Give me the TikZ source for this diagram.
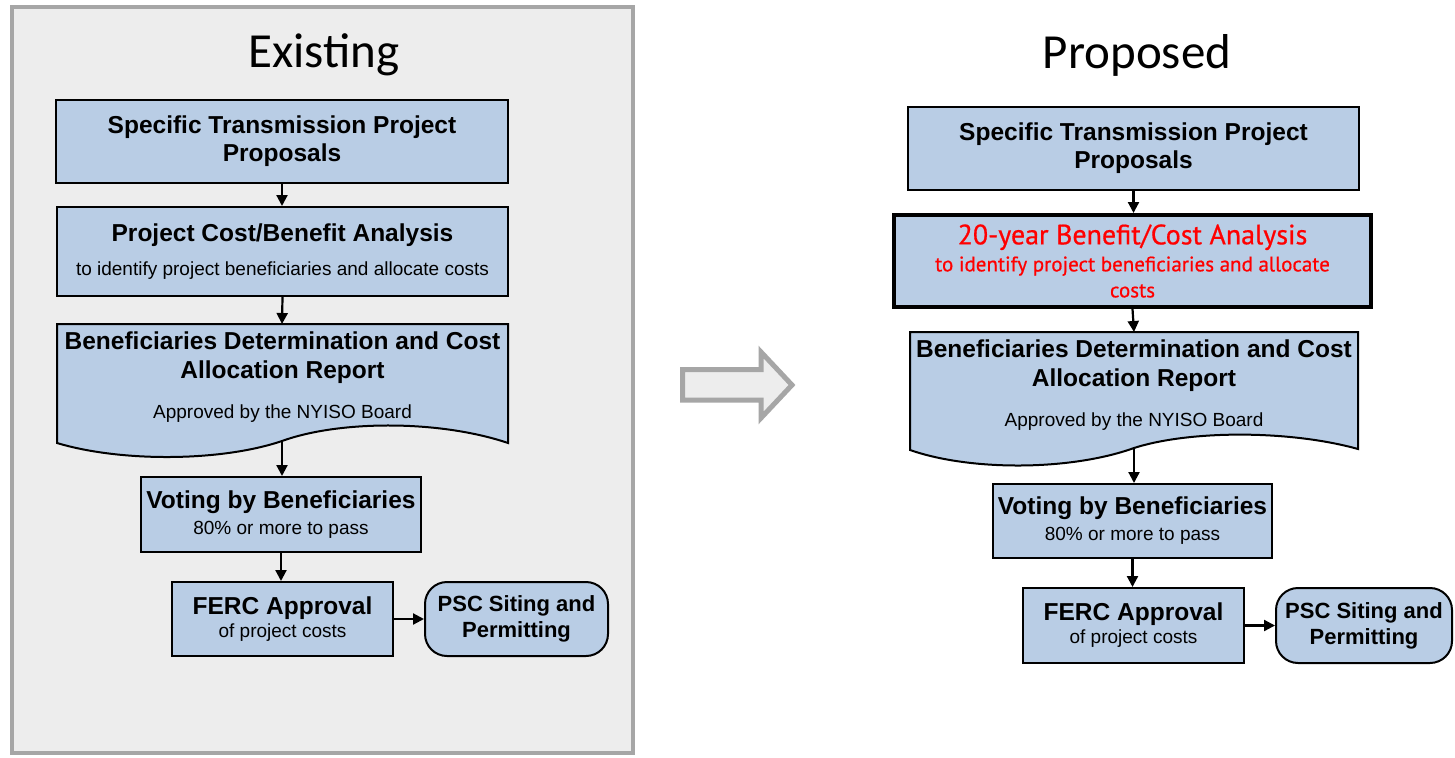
\documentclass[tikz,border=0pt]{standalone}
\usepackage{fontspec}
\setmainfont{Liberation Sans}
\newfontfamily\headfont{Carlito}
\newfontfamily\redfont[FakeBold=0.6]{PT Sans}
\usetikzlibrary{arrows.meta}
\definecolor{boxblue}{HTML}{B9CDE5}
\definecolor{panelfill}{HTML}{EDEDED}
\definecolor{panelline}{HTML}{A6A6A6}
\definecolor{redtext}{HTML}{FF0000}
\newcommand{\subtxt}{\fontsize{19}{23}\selectfont\mdseries}
\newcommand{\smalltxt}{\fontsize{19}{22}\selectfont\mdseries}
\newcommand{\redsub}{\fontsize{21}{21}\selectfont}
\begin{document}
\begin{tikzpicture}[x=1pt,y=-1pt,
  box/.style={draw=black,line width=2pt,fill=boxblue,inner sep=0pt,align=center,font=\fontsize{24.5}{28}\selectfont\bfseries},
  doctext/.style={inner sep=0pt,align=center,anchor=north,font=\fontsize{24.5}{28}\selectfont\bfseries},
  arr/.style={line width=2.2pt,-{Triangle[length=11pt,width=11pt]}},
  heading/.style={font=\headfont\fontsize{49}{49}\selectfont,anchor=base,inner sep=0pt},
  docshape/.style={draw=black,line width=2pt,fill=boxblue,line join=miter},
  bigarrow/.style={draw=panelline,line width=5pt,fill=panelfill,line join=miter},
  rounded/.style={rounded corners=22pt,font=\fontsize{22}{26}\selectfont\bfseries},
]
\useasboundingbox (0,0) rectangle (1455,757);
\fill[white] (0,0) rectangle (1455,757);
% ---------- Existing panel ----------
\draw[draw=panelline,line width=4pt,fill=panelfill] (12,7) rectangle (633,753);
\node[heading] (ltitle) at (324,68) {Existing};
\node[box,minimum width=452pt,minimum height=83pt] (lb1) at (282,141.5) {Specific Transmission Project\\Proposals};
\node[box,minimum width=451pt,minimum height=89pt] (lb2) at (282.5,251.5) {Project Cost/Benefit Analysis\\[6pt]\subtxt to identify project beneficiaries and allocate costs};
\draw[docshape] (57,324) -- (508,324) -- (508,443) .. controls (440,420) and (340,420) .. (282,441) .. controls (220,462) and (120,462) .. (57,443) -- cycle;
\node[doctext] (lb3) at (282.5,331.5) {Beneficiaries Determination and Cost\\[1pt]Allocation Report\\[12pt]\subtxt Approved by the NYISO Board};
\coordinate (lb3top) at (282,324);
\coordinate (lb3w) at (282,441);
\node[box,minimum width=280pt,minimum height=75pt] (lb4) at (281,514.5) {Voting by Beneficiaries\\[-2pt]\smalltxt 80\% or more to pass};
\node[box,minimum width=221pt,minimum height=74pt] (lb5) at (282.5,619) {FERC Approval\\[-5pt]\smalltxt of project costs};
\node[box,rounded,minimum width=183pt,minimum height=74pt] (lb6) at (516.5,619) {PSC Siting and\\Permitting};
\draw[arr] (lb1.south) -- (lb1.south |- lb2.north);
\draw[arr] (lb2.south) -- (lb3top);
\draw[arr] (lb3w) -- (lb3w |- lb4.north);
\draw[arr] (lb4.south) -- (lb4.south |- lb5.north);
\draw[arr] (lb5.east) -- (lb5.east -| lb6.west);
% ---------- big arrow ----------
\draw[bigarrow] (682.5,369.5) -- (761,369.5) -- (761,352) -- (792,385) -- (761,418) -- (761,400) -- (682.5,400) -- cycle;
% ---------- Proposed ----------
\node[heading] (rtitle) at (1137,69) {Proposed};
\node[box,minimum width=451pt,minimum height=83pt] (rb1) at (1133.5,148.5) {Specific Transmission Project\\Proposals};
\node[box,line width=4pt,minimum width=477pt,minimum height=92pt,font=\redfont\fontsize{28}{26}\selectfont,text=redtext] (rb2) at (1132.5,261) {20-year Benefit/Cost Analysis\\[1pt]{\redsub to identify project beneficiaries and allocate}\\{\redsub costs}};
\draw[docshape] (910,332) -- (1358,332) -- (1358,449) .. controls (1290,430) and (1190,430) .. (1134,448) .. controls (1070,471) and (970,471) .. (910,450) -- cycle;
\node[doctext] (rb3) at (1134,339.5) {Beneficiaries Determination and Cost\\[1pt]Allocation Report\\[12pt]\subtxt Approved by the NYISO Board};
\coordinate (rb3top) at (1134,332);
\coordinate (rb3w) at (1134,448);
\node[box,minimum width=279pt,minimum height=74pt] (rb4) at (1132.5,521) {Voting by Beneficiaries\\[-2pt]\smalltxt 80\% or more to pass};
\node[box,minimum width=221pt,minimum height=75pt] (rb5) at (1133.5,625.5) {FERC Approval\\[-5pt]\smalltxt of project costs};
\node[box,rounded,minimum width=176pt,minimum height=75pt] (rb6) at (1364,625.5) {PSC Siting and\\Permitting};
\draw[arr] (rb1.south) -- (rb1.south |- rb2.north);
\draw[arr] (rb2.south) -- (rb3top);
\draw[arr] (rb3w) -- (rb3w |- rb4.north);
\draw[arr] (rb4.south) -- (rb4.south |- rb5.north);
\draw[arr] (rb5.east) -- (rb5.east -| rb6.west);
\end{tikzpicture}
\end{document}
